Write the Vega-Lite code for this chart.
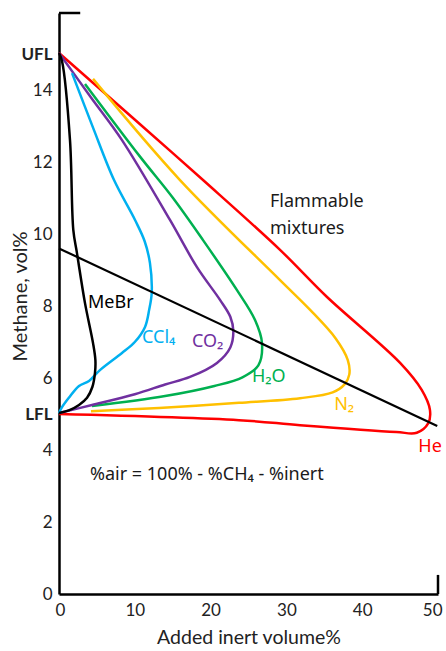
{
  "$schema": "https://vega.github.io/schema/vega-lite/v6.json",
  "width": 379,
  "height": 581,
  "autosize": {"type": "none"},
  "padding": {"left": 59, "top": 13, "right": 8, "bottom": 57},
  "background": "white",
  "config": {"view": {"stroke": null}, "font": "Lato"},
  "datasets": {
    "curves": [
      {"s": "He", "i": 0, "x": 0, "y": 15.03},
      {"s": "He", "i": 1, "x": 10.69, "y": 13.05},
      {"s": "He", "i": 2, "x": 19.0, "y": 11.5},
      {"s": "He", "i": 3, "x": 29.16, "y": 9.56},
      {"s": "He", "i": 4, "x": 35.36, "y": 8.25},
      {"s": "He", "i": 5, "x": 45.0, "y": 6.42},
      {"s": "He", "i": 6, "x": 47.85, "y": 5.67},
      {"s": "He", "i": 7, "x": 48.94, "y": 5.11},
      {"s": "He", "i": 8, "x": 48.7, "y": 4.74},
      {"s": "He", "i": 9, "x": 47.2, "y": 4.48},
      {"s": "He", "i": 10, "x": 44.5, "y": 4.5},
      {"s": "He", "i": 11, "x": 31.8, "y": 4.69},
      {"s": "He", "i": 12, "x": 23.75, "y": 4.83},
      {"s": "He", "i": 13, "x": 0, "y": 5.0},
      {"s": "N2", "i": 0, "x": 4.49, "y": 14.31},
      {"s": "N2", "i": 1, "x": 15.96, "y": 11.5},
      {"s": "N2", "i": 2, "x": 29.16, "y": 8.72},
      {"s": "N2", "i": 3, "x": 33.1, "y": 7.9},
      {"s": "N2", "i": 4, "x": 36.5, "y": 7.1},
      {"s": "N2", "i": 5, "x": 38.1, "y": 6.5},
      {"s": "N2", "i": 6, "x": 38.3, "y": 6.1},
      {"s": "N2", "i": 7, "x": 37.7, "y": 5.83},
      {"s": "N2", "i": 8, "x": 36.1, "y": 5.6},
      {"s": "N2", "i": 9, "x": 31.8, "y": 5.44},
      {"s": "N2", "i": 10, "x": 23.75, "y": 5.31},
      {"s": "N2", "i": 11, "x": 13.19, "y": 5.17},
      {"s": "N2", "i": 12, "x": 4.22, "y": 5.08},
      {"s": "H2O", "i": 0, "x": 3.43, "y": 14.17},
      {"s": "H2O", "i": 1, "x": 10.69, "y": 12.15},
      {"s": "H2O", "i": 2, "x": 15.04, "y": 11.0},
      {"s": "H2O", "i": 3, "x": 19.0, "y": 9.83},
      {"s": "H2O", "i": 4, "x": 23.48, "y": 8.44},
      {"s": "H2O", "i": 5, "x": 25.86, "y": 7.61},
      {"s": "H2O", "i": 6, "x": 26.78, "y": 6.97},
      {"s": "H2O", "i": 7, "x": 26.3, "y": 6.35},
      {"s": "H2O", "i": 8, "x": 24.2, "y": 6.02},
      {"s": "H2O", "i": 9, "x": 20.5, "y": 5.78},
      {"s": "H2O", "i": 10, "x": 14.0, "y": 5.5},
      {"s": "H2O", "i": 11, "x": 4.35, "y": 5.22},
      {"s": "CO2", "i": 0, "x": 0, "y": 15.03},
      {"s": "CO2", "i": 1, "x": 4.2, "y": 13.8},
      {"s": "CO2", "i": 2, "x": 8.31, "y": 12.61},
      {"s": "CO2", "i": 3, "x": 14.64, "y": 10.39},
      {"s": "CO2", "i": 4, "x": 18.2, "y": 9.08},
      {"s": "CO2", "i": 5, "x": 21.24, "y": 8.17},
      {"s": "CO2", "i": 6, "x": 22.6, "y": 7.7},
      {"s": "CO2", "i": 7, "x": 23.0, "y": 7.3},
      {"s": "CO2", "i": 8, "x": 22.6, "y": 6.85},
      {"s": "CO2", "i": 9, "x": 20.84, "y": 6.42},
      {"s": "CO2", "i": 10, "x": 17.28, "y": 6.03},
      {"s": "CO2", "i": 11, "x": 14.0, "y": 5.82},
      {"s": "CO2", "i": 12, "x": 10.0, "y": 5.55},
      {"s": "CO2", "i": 13, "x": 4.35, "y": 5.25},
      {"s": "CO2", "i": 14, "x": 0, "y": 5.03},
      {"s": "CCl4", "i": 0, "x": 1.72, "y": 14.47},
      {"s": "CCl4", "i": 1, "x": 4.5, "y": 12.95},
      {"s": "CCl4", "i": 2, "x": 7.26, "y": 11.5},
      {"s": "CCl4", "i": 3, "x": 10.03, "y": 10.39},
      {"s": "CCl4", "i": 4, "x": 11.3, "y": 9.8},
      {"s": "CCl4", "i": 5, "x": 12.0, "y": 9.19},
      {"s": "CCl4", "i": 6, "x": 12.23, "y": 8.36},
      {"s": "CCl4", "i": 7, "x": 11.9, "y": 7.9},
      {"s": "CCl4", "i": 8, "x": 11.35, "y": 7.42},
      {"s": "CCl4", "i": 9, "x": 10.0, "y": 7.0},
      {"s": "CCl4", "i": 10, "x": 8.27, "y": 6.69},
      {"s": "CCl4", "i": 11, "x": 5.4, "y": 6.22},
      {"s": "CCl4", "i": 12, "x": 3.96, "y": 5.92},
      {"s": "CCl4", "i": 13, "x": 2.64, "y": 5.78},
      {"s": "CCl4", "i": 14, "x": 1.3, "y": 5.45},
      {"s": "CCl4", "i": 15, "x": 0.4, "y": 5.19},
      {"s": "CCl4", "i": 16, "x": 0, "y": 5.03},
      {"s": "MeBr", "i": 0, "x": 0, "y": 15.03},
      {"s": "MeBr", "i": 1, "x": 0.4, "y": 14.8},
      {"s": "MeBr", "i": 2, "x": 1.45, "y": 12.61},
      {"s": "MeBr", "i": 3, "x": 1.89, "y": 10.11},
      {"s": "MeBr", "i": 4, "x": 2.37, "y": 9.47},
      {"s": "MeBr", "i": 5, "x": 3.43, "y": 8.08},
      {"s": "MeBr", "i": 6, "x": 4.49, "y": 6.97},
      {"s": "MeBr", "i": 7, "x": 4.8, "y": 6.5},
      {"s": "MeBr", "i": 8, "x": 4.75, "y": 6.15},
      {"s": "MeBr", "i": 9, "x": 4.4, "y": 5.75},
      {"s": "MeBr", "i": 10, "x": 3.7, "y": 5.45},
      {"s": "MeBr", "i": 11, "x": 2.64, "y": 5.25},
      {"s": "MeBr", "i": 12, "x": 1.3, "y": 5.1},
      {"s": "MeBr", "i": 13, "x": 0, "y": 5.03}
    ],
    "labels": [
      {"s": "MeBr", "t": "MeBr", "x": 3.83, "y": 8.08},
      {"s": "CCl4", "t": "CCl₄", "x": 10.95, "y": 7.11},
      {"s": "CO2", "t": "CO₂", "x": 17.55, "y": 7.0},
      {"s": "H2O", "t": "H₂O", "x": 25.46, "y": 6.03},
      {"s": "N2", "t": "N₂", "x": 36.3, "y": 5.25},
      {"s": "He", "t": "He", "x": 47.4, "y": 4.08}
    ],
    "notes": [
      {"t": "Flammable", "x": 27.84, "y": 10.89},
      {"t": "mixtures", "x": 27.84, "y": 10.15},
      {"t": "%air = 100% - %CH₄ - %inert", "x": 4.09, "y": 3.31}
    ]
  },
  "layer": [
    {
      "data": {"name": "curves"},
      "mark": {"type": "line", "interpolate": "catmull-rom", "strokeWidth": 2.5},
      "encoding": {
        "x": {
          "field": "x", "type": "quantitative",
          "scale": {"domain": [0, 50], "nice": false, "zero": false},
          "axis": {
            "values": [0, 10, 20, 30, 40, 50],
            "title": "Added inert volume%",
            "grid": false, "ticks": false,
            "domainColor": "#000", "domainWidth": 2.5,
            "labelFontSize": 17, "labelColor": "#222", "labelPadding": 8,
            "labelFlush": true, "labelFlushOffset": 4, "labelOverlap": false,
            "titleFontSize": 19.5, "titleFontWeight": "normal", "titleColor": "#222",
            "titlePadding": 10
          }
        },
        "y": {
          "field": "y", "type": "quantitative",
          "scale": {"domain": [0, 16.14], "nice": false, "zero": false},
          "axis": {
            "values": [0, 2, 4, 5, 6, 8, 10, 12, 14, 15],
            "labelExpr": "datum.value == 15 ? 'UFL' : datum.value == 5 ? 'LFL' : datum.label",
            "labelFontWeight": {"condition": {"test": "datum.value == 5 || datum.value == 15", "value": "bold"}, "value": "normal"},
            "title": "Methane, vol%",
            "grid": false, "ticks": false,
            "domainColor": "#000", "domainWidth": 2.5,
            "labelFontSize": 17, "labelColor": "#222", "labelPadding": 7,
            "labelOverlap": false, "labelFlush": false,
            "titleFontSize": 20, "titleFontWeight": "normal", "titleColor": "#222",
            "titleX": -39, "titleY": 283, "titleAlign": "center", "titleBaseline": "middle", "titleAngle": -90
          }
        },
        "color": {
          "field": "s", "type": "nominal",
          "scale": {"domain": ["He", "N2", "H2O", "CO2", "CCl4", "MeBr"], "range": ["#FF0000", "#FFC000", "#00B050", "#7030A0", "#00B0F0", "#000000"]},
          "legend": null
        },
        "order": {"field": "i", "type": "quantitative"}
      }
    },
    {
      "data": {"values": [{"x": 0, "y": 9.6}, {"x": 49.9, "y": 4.67}]},
      "mark": {"type": "line", "color": "#000", "strokeWidth": 2.2},
      "encoding": {
        "x": {"field": "x", "type": "quantitative"},
        "y": {"field": "y", "type": "quantitative"}
      }
    },
    {
      "data": {"values": [{"x": 0, "x2": 2.8, "y": 16.14}]},
      "mark": {"type": "rule", "color": "#000", "strokeWidth": 2.5},
      "encoding": {
        "x": {"field": "x", "type": "quantitative"},
        "x2": {"field": "x2"},
        "y": {"field": "y", "type": "quantitative"}
      }
    },
    {
      "data": {"values": [{"x": 50, "y": 0, "y2": 0.53}]},
      "mark": {"type": "rule", "color": "#000", "strokeWidth": 2.5},
      "encoding": {
        "x": {"field": "x", "type": "quantitative"},
        "y": {"field": "y", "type": "quantitative"},
        "y2": {"field": "y2"}
      }
    },
    {
      "data": {"name": "labels"},
      "mark": {"type": "text", "align": "left", "baseline": "middle", "fontSize": 18, "font": "Noto Sans"},
      "encoding": {
        "x": {"field": "x", "type": "quantitative"},
        "y": {"field": "y", "type": "quantitative"},
        "text": {"field": "t"},
        "color": {"field": "s", "type": "nominal", "legend": null}
      }
    },
    {
      "data": {"name": "notes"},
      "mark": {"type": "text", "align": "left", "baseline": "middle", "fontSize": 18, "font": "Noto Sans", "color": "#1a1a1a"},
      "encoding": {
        "x": {"field": "x", "type": "quantitative"},
        "y": {"field": "y", "type": "quantitative"},
        "text": {"field": "t"}
      }
    }
  ]
}
